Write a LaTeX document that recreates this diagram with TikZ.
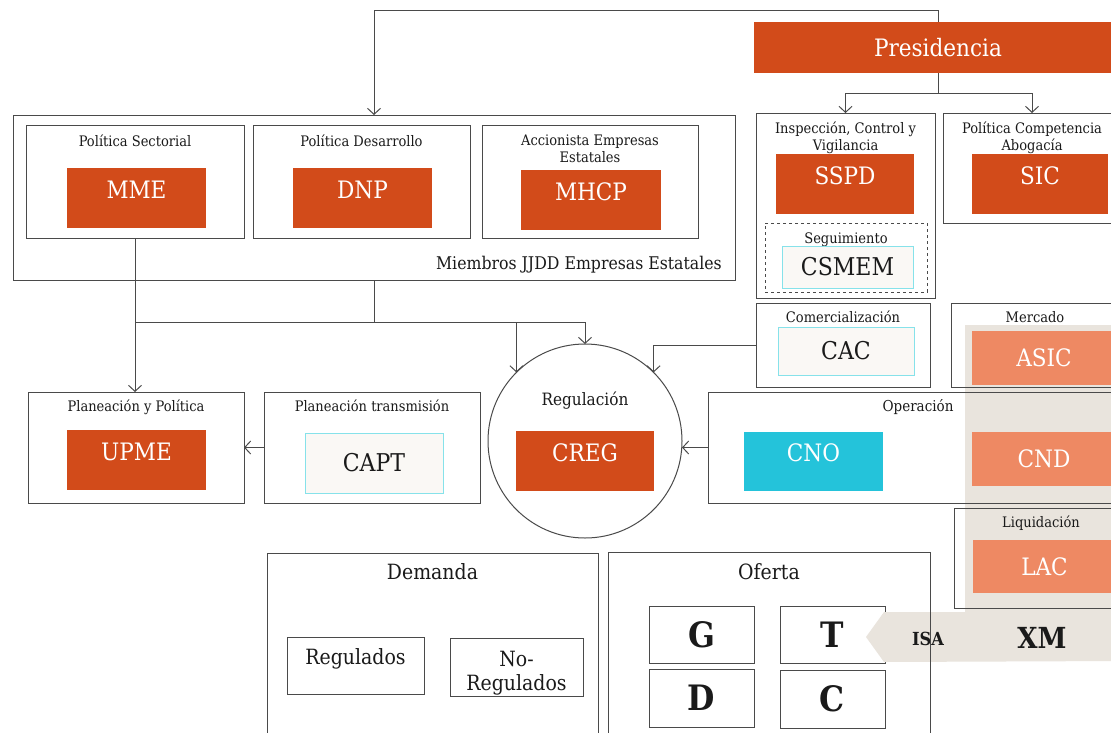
\documentclass[tikz,border=0pt]{standalone}
\usepackage{fontspec}
\setmainfont{DejaVu Serif Condensed}
\usepackage{xcolor}
\usepackage{tikz}
\usetikzlibrary{arrows.meta}
\definecolor{rust}{HTML}{D24B1A}
\definecolor{salmon}{HTML}{EE8963}
\definecolor{cnocyan}{HTML}{24C3DA}
\definecolor{sand}{HTML}{E9E4DD}
\definecolor{paper}{HTML}{FAF8F5}
\definecolor{rim}{HTML}{86E2EA}
\definecolor{ink}{HTML}{4A4A4A}
\definecolor{txt}{HTML}{1A1A1A}
\tikzset{
  sz/.style 2 args={minimum width=#1pt, minimum height=#2pt},
  frame/.style={draw=ink, line width=1pt, inner sep=0pt, outer sep=0pt},
  dframe/.style={frame, dashed},
  rustbox/.style={fill=rust, text=white, inner sep=0pt, outer sep=0pt,
    font=\fontsize{24}{24}\selectfont, text height=17pt, text depth=17pt},
  salbox/.style={fill=salmon, text=white, inner sep=0pt, outer sep=0pt,
    font=\fontsize{24}{24}\selectfont},
  paperbox/.style={fill=paper, draw=rim, line width=0.8pt, inner sep=0pt,
    text=txt, font=\fontsize{24.5}{24.5}\selectfont},
  ttl/.style={anchor=base, inner sep=0pt, text=txt, align=center,
    font=\fontsize{14.5}{17}\selectfont},
  head/.style={anchor=base, inner sep=0pt, text=txt, font=\fontsize{21}{24}\selectfont},
  letter/.style={frame, text=txt, font=\bfseries\fontsize{35}{35}\selectfont},
  wire/.style={draw=ink, line width=1pt},
  arr/.style={wire, -{Straight Barb[length=6pt,width=13pt]}},
}

\begin{document}
\begin{tikzpicture}[x=1pt, y=-1pt]
  \useasboundingbox (0,0) rectangle (1111,732);
  \clip (0,0) rectangle (1111,732);
  \fill[white] (0,0) rectangle (1111,732);

  % Oferta boxes sit under the XM panel
  \node[letter, sz={105}{57}] (gen) at (701.5,634.5) {G};
  \node[letter, sz={105}{57}] (tra) at (832.5,634.5) {T};
  \node[letter, sz={105}{58}] (dis) at (701.5,698) {D};
  \node[letter, sz={105}{58}] (com) at (832.5,699) {C};

  % XM panel
  \fill[sand] (965,325) -- (1122,325) -- (1122,661) -- (884,662)
    -- (866,637) -- (884,612) -- (965,612) -- cycle;
  \node[anchor=base, inner sep=0pt, text=txt, font=\bfseries\fontsize{18}{18}\selectfont] (isa) at (928,645) {ISA};
  \node[anchor=base, inner sep=0pt, text=txt, font=\bfseries\fontsize{29}{29}\selectfont] (xm) at (1042,648) {XM};

  % Presidencia
  \node[fill=rust, text=white, inner sep=0pt, sz={368}{51},
    font=\fontsize{24}{24}\selectfont] (pres) at (938,47.5) {Presidencia};

  % Miembros JJDD
  \node[frame, sz={722}{165}] (jjdd) at (374,197.5) {};
  \node[head, anchor=base east, font=\fontsize{17.5}{18}\selectfont] (jjdd-t) at (722,269) {Miembros JJDD Empresas Estatales};
  \node[frame, sz={218}{113}] (psec) at (135,181.5) {};
  \node[ttl] (psec-t) at (135,146) {Política Sectorial};
  \node[rustbox, sz={139}{60}] (mme) at (136.5,198) {MME};
  \node[frame, sz={217}{113}] (pdes) at (361.5,181.5) {};
  \node[ttl] (pdes-t) at (361.5,146) {Política Desarrollo};
  \node[rustbox, sz={139}{60}] (dnp) at (362.5,198) {DNP};
  \node[frame, sz={216}{113}] (pacc) at (590,181.5) {};
  \node[ttl] (pacc-t) at (590,162) {Accionista Empresas\\Estatales};
  \node[rustbox, sz={140}{60}] (mhcp) at (591,200) {MHCP};

  % Inspeccion y competencia
  \node[frame, sz={179}{185}] (icv) at (845.5,205.5) {};
  \node[ttl] (icv-t) at (845.5,150) {Inspección, Control y\\Vigilancia};
  \node[rustbox, sz={138}{60}] (sspd) at (845,184) {SSPD};
  \node[dframe, sz={162}{69}] (segui) at (846,257.5) {};
  \node[ttl] (segui-t) at (846,243) {Seguimiento};
  \node[paperbox, sz={131}{42}] (csmem) at (847.5,267) {CSMEM};
  \node[frame, sz={178}{110}] (pcomp) at (1032,168) {};
  \node[ttl] (pcomp-t) at (1032,150) {Política Competencia\\Abogacía};
  \node[rustbox, sz={136}{60}] (sic) at (1040,184) {SIC};

  % Comercializacion, Mercado, Operacion, Liquidacion
  \node[frame, sz={174}{84}] (comer) at (843,345) {};
  \node[ttl] (comer-t) at (843,322) {Comercialización};
  \node[paperbox, sz={136}{48}] (cac) at (846,351) {CAC};
  \node[frame, sz={168}{84}] (merc) at (1035,345) {};
  \node[ttl] (merc-t) at (1035,322) {Mercado};
  \node[salbox, sz={144}{54}] (asic) at (1044,358) {ASIC};
  \node[frame, sz={420}{111}] (oper) at (918,447.5) {};
  \node[ttl, font=\fontsize{15}{17}\selectfont] (oper-t) at (918,411) {Operación};
  \node[rustbox, fill=cnocyan, sz={139}{59}] (cno) at (813.5,461.5) {CNO};
  \node[salbox, sz={144}{54}] (cnd) at (1044,459) {CND};
  \node[frame, sz={174}{100}] (liq) at (1041,558) {};
  \node[ttl] (liq-t) at (1041,527) {Liquidación};
  \node[salbox, sz={143}{53}] (lac) at (1044.5,566.5) {LAC};

  % Planeacion
  \node[frame, sz={216}{111}] (plan) at (136,447.5) {};
  \node[ttl] (plan-t) at (136,411) {Planeación y Política};
  \node[rustbox, sz={139}{60}] (upme) at (136.5,460) {UPME};
  \node[frame, sz={216}{111}] (ptrans) at (372,447.5) {};
  \node[ttl] (ptrans-t) at (372,411) {Planeación transmisión};
  \node[paperbox, sz={138}{60}] (capt) at (374,463) {CAPT};

  % Regulacion
  \node[frame, circle, minimum size=194pt] (reg) at (585,441) {};
  \node[ttl, font=\fontsize{17}{17}\selectfont] (reg-t) at (585,405) {Regulación};
  \node[rustbox, sz={138}{60}] (creg) at (585,461) {CREG};

  % Demanda y Oferta
  \node[frame, sz={331}{207}] (dem) at (432.5,656.5) {};
  \node[head] (dem-t) at (432.5,579) {Demanda};
  \node[frame, sz={137}{57}, text=txt, font=\fontsize{21}{24}\selectfont,
    text height=15pt, text depth=18pt] (regu) at (355.5,665.5) {Regulados};
  \node[frame, sz={133}{58}, text=txt, align=center,
    font=\fontsize{21}{24}\selectfont] (noregu) at (516.5,667) {\rule{0pt}{28pt}No-\\Regulados};
  \node[frame, sz={322}{208}] (ofer) at (769,656) {};
  \node[head] (ofer-t) at (769,579) {Oferta};

  % conectores
  \draw[arr] (pres.north) -- ++(0,-11) -| (jjdd.north);
  \draw[arr] (pres.south) -- ++(0,20) -| (icv.north);
  \draw[arr] (pres.south) -- ++(0,20) -| (pcomp.north);
  \draw[wire] (jjdd.south) -- ++(0,42) coordinate (jn);
  \draw[wire] (psec.south |- jn) -- (jn);
  \draw[arr] (psec.south) -- (psec.south |- plan.north);
  \draw[arr] (jn) -| (reg.135);
  \draw[arr] (jn) -| (reg.north);
  \draw[arr] (comer.west) -| (reg.45);
  \draw[arr] (ptrans.west) -- (plan.east);
  \draw[arr] (oper.west) -- (oper.west -| reg.east);
\end{tikzpicture}
\end{document}
